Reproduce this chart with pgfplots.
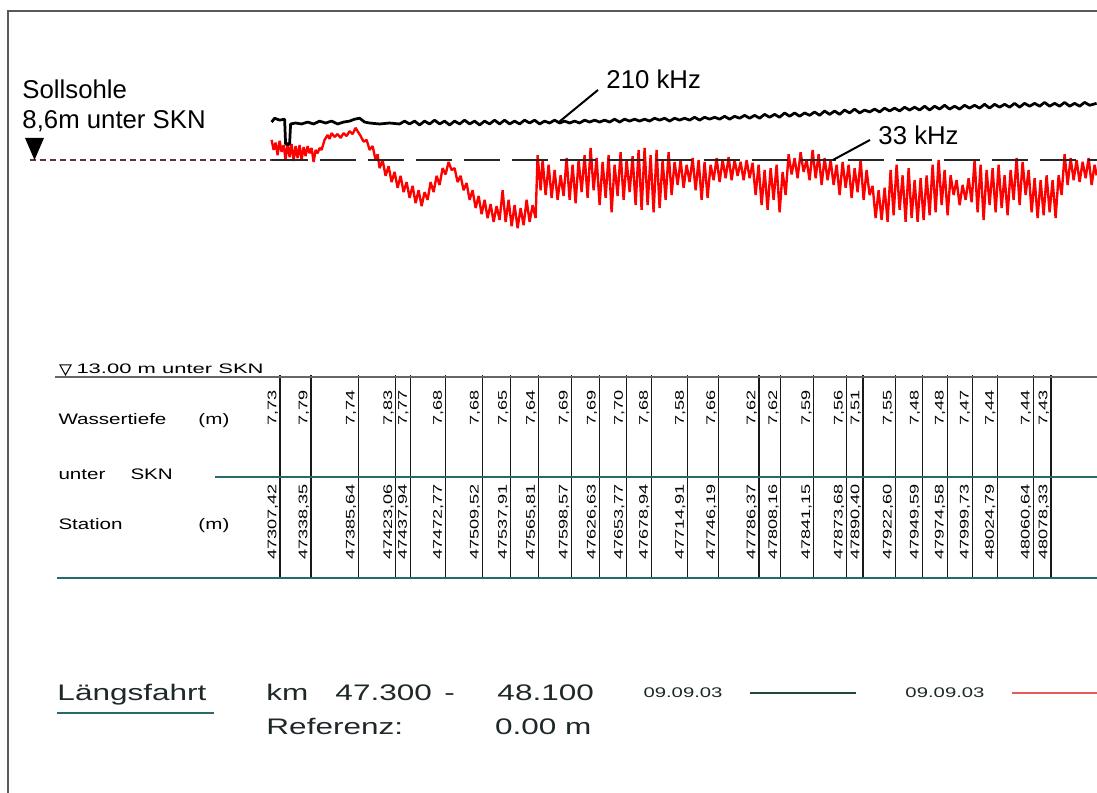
\documentclass[border=0pt]{standalone}
\usepackage{pgfplots}
\pgfplotsset{compat=1.18}
\usepackage{pgfplotstable}
\usepackage{graphicx}
\usepackage{fontspec}
\setmainfont{Liberation Sans}

\definecolor{tealline}{RGB}{40,105,105}
\definecolor{darkteal}{RGB}{30,70,60}
\definecolor{cadtext}{RGB}{30,40,40}
\definecolor{sollred}{RGB}{100,50,50}
\definecolor{legred}{RGB}{230,90,90}

% CAD-style text: size, horizontal stretch, text
\newcommand{\cad}[3]{\scalebox{#2}[1]{\fontsize{#1}{#1}\selectfont #3}}

% stations of the table, water depth below SKN
\pgfplotstableread{
s        wt    st
47307.42 7,73  47307,42
47338.35 7,79  47338,35
47385.64 7,74  47385,64
47423.06 7,83  47423,06
47437.94 7,77  47437,94
47472.77 7,68  47472,77
47509.52 7,68  47509,52
47537.91 7,65  47537,91
47565.81 7,64  47565,81
47598.57 7,69  47598,57
47626.63 7,69  47626,63
47653.77 7,70  47653,77
47678.94 7,68  47678,94
47714.91 7,58  47714,91
47746.19 7,66  47746,19
47786.37 7,62  47786,37
47808.16 7,62  47808,16
47841.15 7,59  47841,15
47873.68 7,56  47873,68
47890.40 7,51  47890,40
47922.60 7,55  47922,60
47949.59 7,48  47949,59
47974.58 7,48  47974,58
47999.73 7,47  47999,73
48024.79 7,44  48024,79
48060.64 7,44  48060,64
48078.33 7,43  48078,33
}\stations

\begin{document}
\begin{tikzpicture}
\useasboundingbox (0,0) rectangle (438.8pt,317.2pt);

% ---- profile: station (m) vs depth below SKN (m)
\begin{axis}[at={(0,0)},anchor=south west,
  width=438.8pt,height=317.2pt,scale only axis,hide axis,
  xmin=47027.4,xmax=48124.4,ymin=5.2667,ymax=21.7875,y dir=reverse,
  clip=true]
% 33 kHz
\addplot[red,line width=0.95pt,line join=bevel] coordinates {
(47299,8.18) (47301,8.39) (47303,8.24) (47305,8.50) (47307,8.20) (47309,8.43) (47311,8.29) (47313,8.60)
(47315,8.23) (47317,8.54) (47319,8.27) (47321,8.62) (47323,8.31) (47325,8.56) (47327,8.29) (47329,8.60)
(47331,8.33) (47333,8.52) (47335,8.31) (47337,8.46) (47339,8.35) (47341,8.64) (47343,8.39) (47345,8.46)
(47347,8.35) (47349,8.39) (47352,8.18) (47355,8.08) (47357,8.16) (47359,8.04) (47362,8.12) (47365,8.06)
(47368,8.14) (47371,8.04) (47374,8.10) (47377,8.00) (47380,8.06) (47383,7.93) (47385,8.00) (47388,8.10)
(47391,8.22) (47394,8.18) (47397,8.39) (47400,8.31) (47403,8.60) (47405,8.48) (47407,8.77) (47410,8.60)
(47413,8.93) (47416,8.73) (47419,9.06) (47422,8.85) (47425,9.18) (47428,8.93) (47431,9.27) (47434,9.06)
(47437,9.39) (47440,9.14) (47443,9.50) (47446,9.23) (47449,9.56) (47452,9.27) (47455,9.43) (47458,9.06)
(47461,9.27) (47464,8.93) (47467,9.12) (47470,8.77) (47473,8.90) (47476,8.64) (47479,8.81) (47482,8.77)
(47485,9.06) (47488,8.93) (47491,9.23) (47494,9.08) (47497,9.43) (47500,9.23) (47503,9.60) (47506,9.35)
(47509,9.73) (47512,9.43) (47515,9.81) (47518,9.52) (47521,9.89) (47524,9.56) (47527,9.85) (47530,9.23)
(47533,9.89) (47536,9.43) (47539,9.98) (47542,9.54) (47545,10.02) (47548,9.60) (47551,9.96) (47554,9.43)
(47557,9.89) (47560,9.54) (47563,9.81) (47565,8.50) (47568,9.23) (47570,8.60) (47573,9.33) (47576,8.70)
(47579,9.39) (47582,8.81) (47585,9.43) (47588,8.92) (47591,9.35) (47594,8.56) (47597,9.43) (47600,8.70)
(47603,9.50) (47606,8.60) (47609,9.27) (47612,8.50) (47615,9.39) (47618,8.35) (47621,9.23) (47624,8.56)
(47627,9.54) (47630,8.64) (47633,9.39) (47636,8.50) (47639,9.69) (47642,8.70) (47645,9.35) (47648,8.44)
(47651,9.43) (47654,8.60) (47657,9.27) (47660,8.52) (47663,9.54) (47666,8.39) (47669,9.64) (47672,8.35)
(47675,9.54) (47678,8.50) (47681,9.69) (47684,8.39) (47687,9.60) (47690,8.60) (47693,9.43) (47696,8.44)
(47699,9.33) (47702,8.64) (47705,9.12) (47708,8.60) (47711,9.18) (47714,8.70) (47717,9.06) (47720,8.56)
(47723,9.23) (47726,8.60) (47729,9.43) (47732,8.64) (47735,9.39) (47738,8.70) (47741,9.02) (47744,8.56)
(47747,9.06) (47750,8.60) (47753,8.98) (47756,8.54) (47759,9.02) (47762,8.60) (47765,8.93) (47768,8.64)
(47771,9.02) (47774,8.60) (47777,8.98) (47780,8.66) (47783,9.33) (47786,8.70) (47789,9.54) (47792,8.81)
(47795,9.64) (47798,8.77) (47801,9.43) (47804,8.70) (47807,9.69) (47810,8.85) (47813,9.33) (47816,8.48)
(47819,8.90) (47822,8.56) (47825,8.98) (47828,8.44) (47831,8.85) (47834,8.60) (47837,9.02) (47840,8.39)
(47843,8.98) (47846,8.48) (47849,9.12) (47852,8.56) (47855,9.02) (47858,8.60) (47861,9.12) (47864,8.70)
(47867,9.33) (47870,8.64) (47873,9.18) (47876,8.70) (47879,9.39) (47882,8.77) (47885,9.27) (47888,8.60)
(47891,9.43) (47894,8.81) (47897,9.33) (47900,9.14) (47903,9.81) (47906,9.23) (47909,9.85) (47912,9.18)
(47915,9.89) (47918,8.81) (47921,9.75) (47924,8.70) (47927,9.64) (47930,8.92) (47933,9.89) (47936,8.77)
(47939,9.81) (47942,9.02) (47945,9.89) (47948,8.98) (47951,9.85) (47954,8.92) (47957,9.75) (47960,8.70)
(47963,9.69) (47966,8.60) (47969,9.54) (47972,8.81) (47975,9.75) (47978,8.92) (47981,9.33) (47984,9.02)
(47987,9.54) (47990,9.12) (47993,9.43) (47996,8.98) (47999,9.48) (48002,8.60) (48005,9.69) (48008,8.70)
(48011,9.85) (48014,8.81) (48017,9.54) (48020,8.77) (48023,9.69) (48026,8.70) (48029,9.60) (48032,8.92)
(48035,9.75) (48038,8.81) (48041,9.43) (48044,8.56) (48047,9.54) (48050,8.64) (48053,9.33) (48056,8.81)
(48059,9.69) (48062,8.98) (48065,9.81) (48068,9.02) (48071,9.75) (48074,8.92) (48077,9.69) (48080,9.02)
(48083,9.81) (48086,8.92) (48089,9.33) (48092,8.48) (48095,9.12) (48098,8.56) (48101,9.02) (48104,8.60)
(48107,9.06) (48110,8.64) (48113,8.98) (48116,8.56) (48119,9.12) (48122,8.70) (48124,8.92)};
% 210 kHz
\addplot[black,line width=1.1pt,line join=bevel] coordinates {
(47299,7.81) (47302,7.73) (47307,7.77) (47312,7.75) (47313,8.27) (47317,8.27) (47318,7.85) (47323,7.83)
(47329,7.85) (47335,7.81) (47341,7.85) (47347,7.79) (47353,7.83) (47359,7.79) (47365,7.85) (47371,7.81)
(47377,7.79) (47382,7.75) (47387,7.73) (47392,7.81) (47397,7.83) (47407,7.85) (47417,7.83) (47427,7.85)
(47432,7.79) (47437,7.85) (47442,7.79) (47447,7.87) (47452,7.79) (47457,7.85) (47462,7.77) (47467,7.85)
(47472,7.79) (47477,7.87) (47482,7.79) (47487,7.85) (47492,7.77) (47497,7.85) (47502,7.79) (47507,7.87)
(47512,7.79) (47517,7.85) (47522,7.77) (47527,7.85) (47532,7.77) (47537,7.85) (47542,7.79) (47547,7.85)
(47552,7.77) (47557,7.83) (47562,7.77) (47567,7.85) (47572,7.79) (47577,7.83) (47582,7.77) (47587,7.83)
(47592,7.79) (47597,7.83) (47602,7.79) (47607,7.83) (47612,7.77) (47617,7.81) (47622,7.77) (47627,7.81)
(47632,7.77) (47637,7.81) (47642,7.75) (47647,7.81) (47652,7.75) (47657,7.79) (47662,7.75) (47667,7.79)
(47672,7.75) (47677,7.79) (47682,7.73) (47687,7.77) (47692,7.73) (47697,7.79) (47702,7.73) (47707,7.77)
(47712,7.73) (47717,7.77) (47722,7.71) (47727,7.77) (47732,7.71) (47737,7.75) (47742,7.71) (47747,7.75)
(47752,7.69) (47757,7.75) (47762,7.69) (47767,7.73) (47772,7.67) (47777,7.73) (47782,7.67) (47787,7.73)
(47792,7.65) (47797,7.71) (47802,7.65) (47807,7.71) (47812,7.62) (47817,7.69) (47822,7.62) (47827,7.69)
(47832,7.62) (47837,7.67) (47842,7.60) (47847,7.67) (47852,7.58) (47857,7.65) (47862,7.58) (47867,7.65)
(47872,7.56) (47877,7.62) (47882,7.54) (47887,7.62) (47892,7.56) (47897,7.60) (47902,7.54) (47907,7.60)
(47912,7.52) (47917,7.58) (47922,7.52) (47927,7.58) (47932,7.50) (47937,7.56) (47942,7.50) (47947,7.56)
(47952,7.48) (47957,7.56) (47962,7.48) (47967,7.54) (47972,7.46) (47977,7.54) (47982,7.48) (47987,7.54)
(47992,7.46) (47997,7.52) (48002,7.46) (48007,7.52) (48012,7.44) (48017,7.52) (48022,7.44) (48027,7.50)
(48032,7.44) (48037,7.50) (48042,7.42) (48047,7.50) (48052,7.42) (48057,7.48) (48062,7.42) (48067,7.48)
(48072,7.40) (48077,7.48) (48082,7.42) (48087,7.48) (48092,7.40) (48097,7.48) (48102,7.42) (48107,7.48)
(48112,7.40) (48117,7.46) (48124,7.42)};
% Sollsohle 8.6 m
\addplot[sollred,line width=0.75pt,dash pattern=on 2.6pt off 1.4pt] coordinates {(47057,8.6) (47299,8.6)};
\addplot[black!85,line width=0.8pt,dash pattern=on 14.4pt off 4.8pt] coordinates {(47299,8.6) (48124.4,8.6)};
\end{axis}

% ---- table band: one vertical line per station
\begin{axis}[at={(0,86pt)},anchor=south west,
  width=438.8pt,height=81.2pt,scale only axis,
  xmin=47027.4,xmax=48124.4,ymin=0,ymax=1,
  axis line style={draw=none},tick style={draw=none},major tick length=0pt,
  xtick=data,xticklabels={},ytick=\empty,scaled x ticks=false,
  xmajorgrids,grid style={black!90,line width=0.45pt},clip=false,
  nodes near coords style={rotate=90,anchor=south east,inner sep=0.6pt,text=black}]
\addplot[draw=none,point meta=explicit symbolic,
  nodes near coords={\cad{5}{1.45}{\pgfplotspointmeta}}]
  table[x=s,y expr=0.936,meta=wt] {\stations};
\addplot[draw=none,point meta=explicit symbolic,
  nodes near coords={\cad{5}{1.45}{\pgfplotspointmeta}}]
  table[x=s,y expr=0.473,meta=st] {\stations};
\end{axis}

% ---- annotations, in pixel units of the drawing
\begin{scope}[shift={(0,317.2pt)},x=0.4pt,y=-0.4pt]
\draw[gray!70!black,line width=1.1pt] (8,793) -- (8,11) -- (1097,11);
\node[anchor=base west,inner sep=0,font=\fontsize{10.3}{12}\selectfont] at (22,99) {Sollsohle};
\node[anchor=base west,inner sep=0,font=\fontsize{10.3}{12}\selectfont] at (22,129) {8,6m unter SKN};
\fill (25,138) -- (44,138) -- (34.5,160) -- cycle;
\node[anchor=base west,inner sep=0,font=\fontsize{10.3}{12}\selectfont] at (606,89) {210 kHz};
\draw[line width=0.8pt] (598,90) -- (559,122);
\node[anchor=base west,inner sep=0,font=\fontsize{10.3}{12}\selectfont] at (878,145) {33 kHz};
\draw[line width=0.8pt] (870,140) -- (833,160);
% table frame and headings
\draw[gray!80!black,line width=0.5pt] (55,377) -- (1097,377);
\draw[tealline,line width=0.8pt] (215,477) -- (1097,477);
\draw[tealline,line width=1pt] (57,578) -- (1097,578);
\draw[line width=0.4pt] (60,365) -- (71,365) -- (65.5,375) -- cycle;
\node[anchor=base west,inner sep=0] at (76,374) {\cad{5.5}{1.6}{13.00 m unter SKN}};
\node[anchor=base west,inner sep=0] at (58,425) {\cad{6.1}{1.35}{Wassertiefe}};
\node[anchor=base west,inner sep=0] at (198,425) {\cad{6.1}{1.35}{(m)}};
\node[anchor=base west,inner sep=0] at (58,480) {\cad{6.1}{1.35}{unter}};
\node[anchor=base west,inner sep=0] at (130,480) {\cad{6.1}{1.35}{SKN}};
\node[anchor=base west,inner sep=0] at (58,530) {\cad{6.1}{1.35}{Station}};
\node[anchor=base west,inner sep=0] at (198,530) {\cad{6.1}{1.35}{(m)}};
% footer
\begin{scope}[cadtext]
\node[anchor=base west,inner sep=0] at (57,701) {\cad{9}{1.4}{Längsfahrt}};
\draw[tealline,line width=0.9pt] (57,713) -- (214,713);
\node[anchor=base west,inner sep=0] at (266,701) {\cad{9}{1.4}{km}};
\node[anchor=base west,inner sep=0] at (335,701) {\cad{9}{1.4}{47.300}};
\node[anchor=base west,inner sep=0] at (444,701) {\cad{9}{1.4}{-}};
\node[anchor=base west,inner sep=0] at (497,701) {\cad{9}{1.4}{48.100}};
\node[anchor=base west,inner sep=0] at (266,735) {\cad{9}{1.4}{Referenz:}};
\node[anchor=base east,inner sep=0] at (592,735) {\cad{9}{1.4}{0.00 m}};
\node[anchor=base west,inner sep=0] at (643,698) {\cad{5.6}{1.45}{09.09.03}};
\node[anchor=base west,inner sep=0] at (905,698) {\cad{5.6}{1.45}{09.09.03}};
\end{scope}
\draw[darkteal,line width=0.8pt] (750,693) -- (856,693);
\draw[legred,line width=0.8pt] (1012,693) -- (1097,693);
\end{scope}
\end{tikzpicture}
\end{document}
